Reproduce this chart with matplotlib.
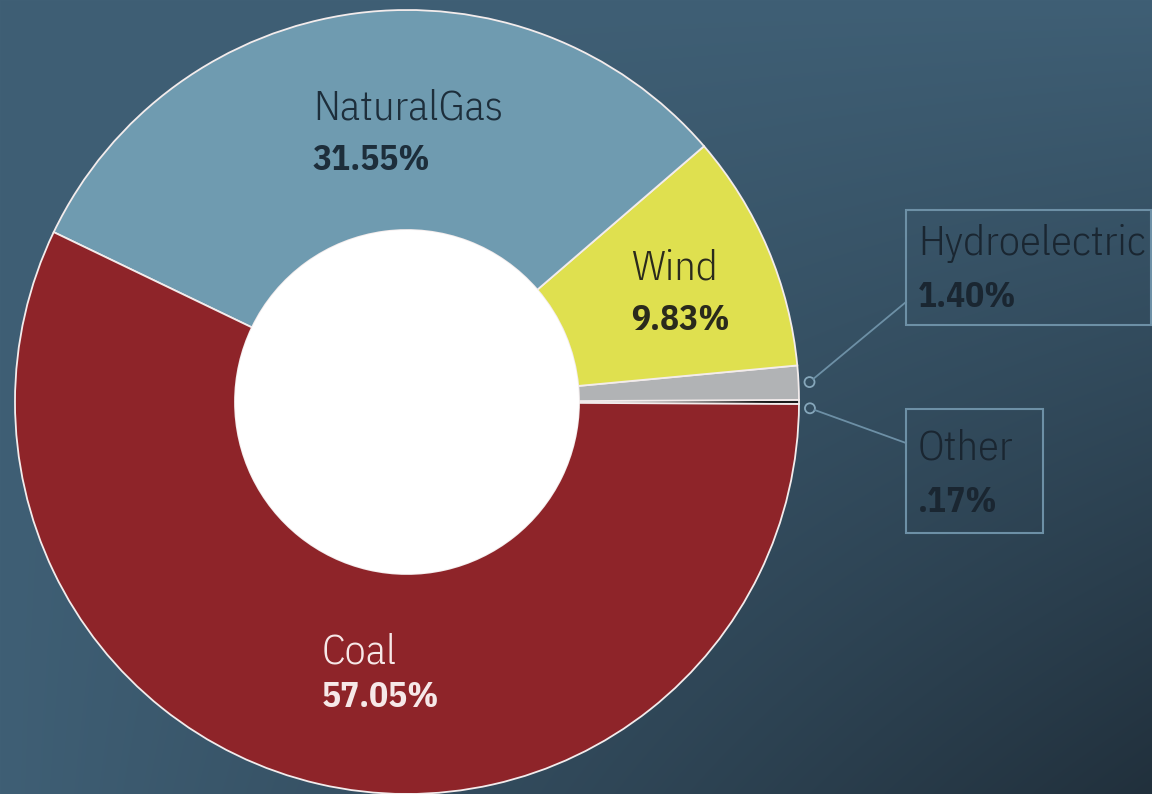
import numpy as np
import matplotlib
matplotlib.use("Agg")
import matplotlib.pyplot as plt
from matplotlib.patches import Circle, Rectangle

# ---- data ----
sources = ['Other', 'Hydroelectric', 'Wind', 'NaturalGas', 'Coal']
shares = [0.17, 1.40, 9.83, 31.55, 57.05]
share_labels = ['.17%', '1.40%', '9.83%', '31.55%', '57.05%']
colors = ['#1b1b1b', '#b1b3b5', '#dfe04f', '#6f9bb0', '#8e2429']

W, H = 1152, 794
cx, cy = 407, H - 402   # pie centre (pixel coords, y up)
R, r_in = 392, 172

plt.rcParams['font.family'] = ['IBM Plex Sans Condensed', 'DejaVu Sans']

fig = plt.figure(figsize=(W/100, H/100), dpi=100)
ax = fig.add_axes([0, 0, 1, 1])

# background gradient: lighter upper-left, darker toward lower-right
yy, xx = np.mgrid[0:H, 0:W]
t = (xx/W)*(yy/H)
light = np.array([63, 95, 117])/255.
dark = np.array([33, 48, 60])/255.
bg = light[None, None, :]*(1-t[..., None]) + dark[None, None, :]*t[..., None]
ax.imshow(bg, extent=(0, W, 0, H), origin='upper', zorder=0, aspect='auto')

wedges, _ = ax.pie(shares, colors=colors, startangle=-0.3, counterclock=True,
                   radius=R, center=(cx, cy),
                   wedgeprops=dict(width=R - r_in, edgecolor='#f3ecec', linewidth=1.3))
for w in wedges:
    w.set_zorder(2)
ax.add_patch(Circle((cx, cy), r_in, facecolor='white', edgecolor='none', zorder=3))

ax.set_xlim(0, W); ax.set_ylim(0, H)
ax.set_aspect('auto')
ax.axis('off')

name_fs, val_fs = 30.5, 25.5

def label(x, y_name, y_val, name, val, col):
    ax.text(x, H - y_name, name, fontsize=name_fs, color=col, fontweight=300,
            va='baseline', ha='left', zorder=5)
    ax.text(x, H - y_val, val, fontsize=val_fs, color=col, fontweight='bold',
            va='baseline', ha='left', zorder=5)

label(313, 120, 170, sources[3], share_labels[3], '#1d2e3b')
label(631, 280, 330, sources[2], share_labels[2], '#2a2a1c')
label(322, 663, 707, sources[4], share_labels[4], '#f6e8e8')

# callouts for the small slices
box_col = '#6d90a6'
callouts = [  # (slice index, box left, top, right, bottom, line end y, name y, value y, circle angle offset)
    (1, 906, 210, 1151, 325, 302, 255, 307, 0.0),
    (0, 906, 409, 1043, 533, 443, 460, 512, -0.9),
]
for i, bl, bt, br, bb, ly, yn, yv, off in callouts:
    wdg = wedges[i]
    ang = np.deg2rad((wdg.theta1 + wdg.theta2)/2 + off)
    px, py = cx + (R + 11)*np.cos(ang), cy + (R + 11)*np.sin(ang)
    ax.add_patch(Circle((px, py), 5, facecolor='none', edgecolor='#86a7bb', lw=1.3, zorder=4))
    dx, dy = bl - px, (H - ly) - py
    d = np.hypot(dx, dy)
    ax.plot([px + 5*dx/d, bl], [py + 5*dy/d, H - ly], color=box_col, lw=1.3, zorder=4)
    ax.add_patch(Rectangle((bl, H - bb), br - bl, bb - bt, facecolor='none',
                           edgecolor=box_col, lw=1.5, zorder=4))
    label(bl + 12, yn, yv, sources[i], share_labels[i], '#1a2631')

fig.savefig('out.png', dpi=100)
